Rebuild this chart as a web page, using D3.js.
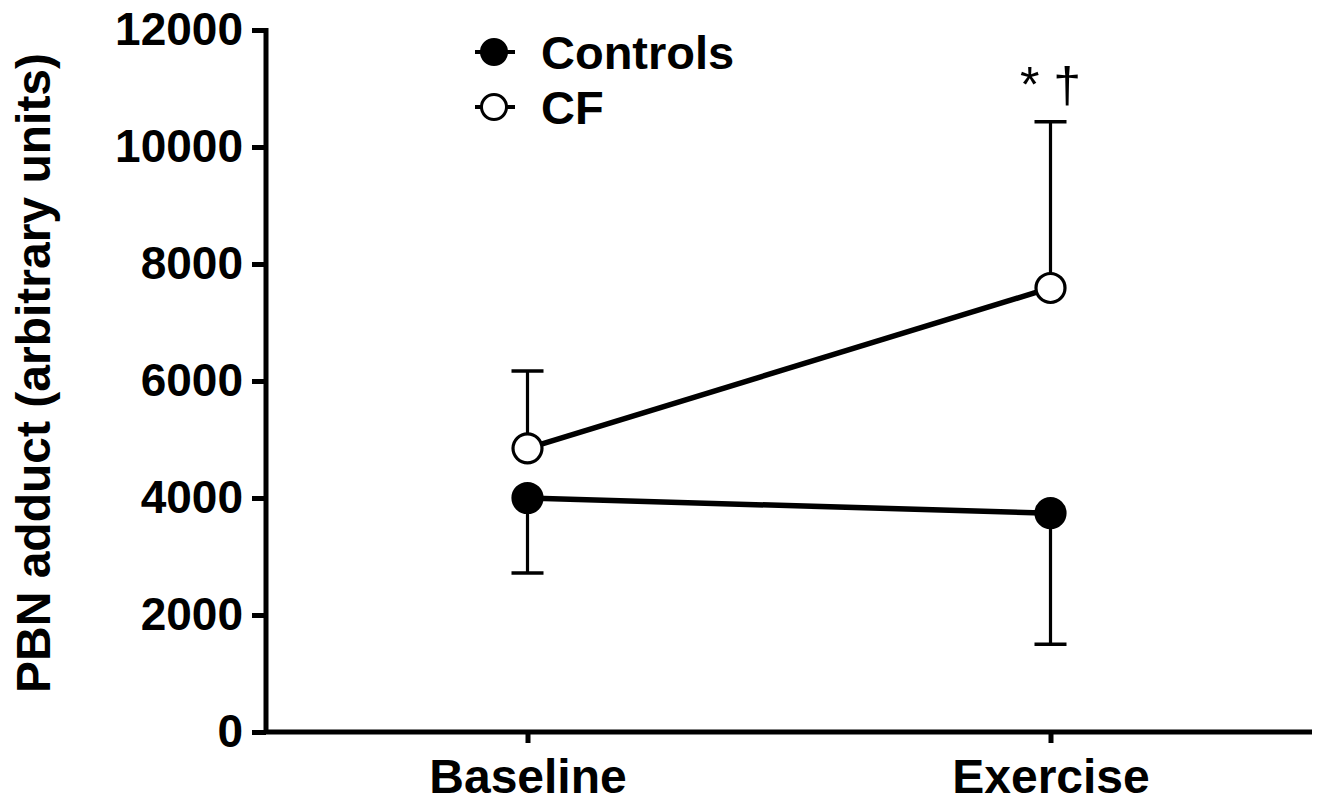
<!DOCTYPE html>
<html>
<head>
<meta charset="utf-8">
<script src="https://cdn.jsdelivr.net/npm/d3@7"></script>
<style>
  html, body { margin: 0; padding: 0; background: #fff; }
  svg { display: block; font-family: "Liberation Sans", Arial, sans-serif; }
</style>
</head>
<body>
<svg id="chart" width="1326" height="802"></svg>
<script>
const categories = ["Baseline", "Exercise"];
const controlsMean = [4000, 3740];
const controlsSD = [1280, 2240];   // drawn downward
const cfMean = [4850, 7590];
const cfSD = [1320, 2840];         // drawn upward
const yTicks = [0, 2000, 4000, 6000, 8000, 10000, 12000];
const yTitle = "PBN adduct (arbitrary units)";
const significance = "* \u2020";

(function () {
const svg = d3.select("#chart");
const pLeft = 266, pRight = 1312, pTop = 30, pBottom = 732;

const x = d3.scalePoint().domain(categories).range([pLeft, pRight]).padding(0.5);
const y = d3.scaleLinear().domain([0, 12000]).range([pBottom, pTop]);

// Y axis
const yAxis = svg.append("g").attr("transform", `translate(${pLeft},0)`)
  .call(d3.axisLeft(y).tickValues(yTicks).tickSize(14).tickPadding(9).tickFormat(d3.format("d")));
yAxis.select(".domain").attr("stroke", "#000").attr("stroke-width", 5)
  .attr("d", `M0,${pTop - 2}V${pBottom}`);
yAxis.selectAll(".tick line").attr("stroke", "#000").attr("stroke-width", 5);
yAxis.selectAll(".tick text").attr("font-size", 46).attr("font-weight", "bold")
  .attr("fill", "#000").attr("font-family", "Liberation Sans, Arial, sans-serif");

// X axis
const xAxis = svg.append("g").attr("transform", `translate(0,${pBottom})`)
  .call(d3.axisBottom(x).tickSize(11).tickPadding(16));
xAxis.select(".domain").attr("stroke", "#000").attr("stroke-width", 5)
  .attr("d", `M${pLeft - 2},0H${pRight}`);
xAxis.selectAll(".tick line").attr("stroke", "#000").attr("stroke-width", 5);
xAxis.selectAll(".tick text").attr("font-size", 48).attr("font-weight", "bold")
  .attr("fill", "#000").attr("font-family", "Liberation Sans, Arial, sans-serif");

// Y title
svg.append("text")
  .attr("transform", `translate(50,${(pTop + pBottom) / 2 - 8}) rotate(-90)`)
  .attr("text-anchor", "middle").attr("font-size", 48).attr("font-weight", "bold")
  .text(yTitle);

const capW = 16;
function errBars(means, sds, dir) {
  categories.forEach((c, i) => {
    const cx = x(c), y0 = y(means[i]), y1 = y(means[i] + dir * sds[i]);
    svg.append("line").attr("x1", cx).attr("x2", cx).attr("y1", y0).attr("y2", y1)
      .attr("stroke", "#000").attr("stroke-width", 3.2);
    svg.append("line").attr("x1", cx - capW).attr("x2", cx + capW).attr("y1", y1).attr("y2", y1)
      .attr("stroke", "#000").attr("stroke-width", 3.5);
  });
}
errBars(controlsMean, controlsSD, -1);
errBars(cfMean, cfSD, 1);

const line = d3.line().x(d => x(d.c)).y(d => y(d.v));
function series(means, fill) {
  const data = categories.map((c, i) => ({ c, v: means[i] }));
  svg.append("path").datum(data).attr("d", line).attr("fill", "none")
    .attr("stroke", "#000").attr("stroke-width", 5.5);
  svg.selectAll(null).data(data).enter().append("circle")
    .attr("cx", d => x(d.c)).attr("cy", d => y(d.v)).attr("r", 14.5)
    .attr("fill", fill).attr("stroke", "#000").attr("stroke-width", 3.2);
}
series(controlsMean, "#000");
series(cfMean, "#fff");

svg.append("text").attr("x", x("Exercise")).attr("y", 102)
  .attr("text-anchor", "middle").attr("font-size", 50).text(significance);

const legend = [{ label: "Controls", fill: "#000", y: 52 }, { label: "CF", fill: "#fff", y: 107 }];
legend.forEach(l => {
  svg.append("line").attr("x1", 475).attr("x2", 515).attr("y1", l.y).attr("y2", l.y)
    .attr("stroke", "#000").attr("stroke-width", 4);
  svg.append("circle").attr("cx", 494).attr("cy", l.y).attr("r", 12.5)
    .attr("fill", l.fill).attr("stroke", "#000").attr("stroke-width", 3);
  svg.append("text").attr("x", 541).attr("y", l.y + 17).attr("font-size", 47)
    .attr("font-weight", "bold").text(l.label);
});
})();
</script>
</body>
</html>
